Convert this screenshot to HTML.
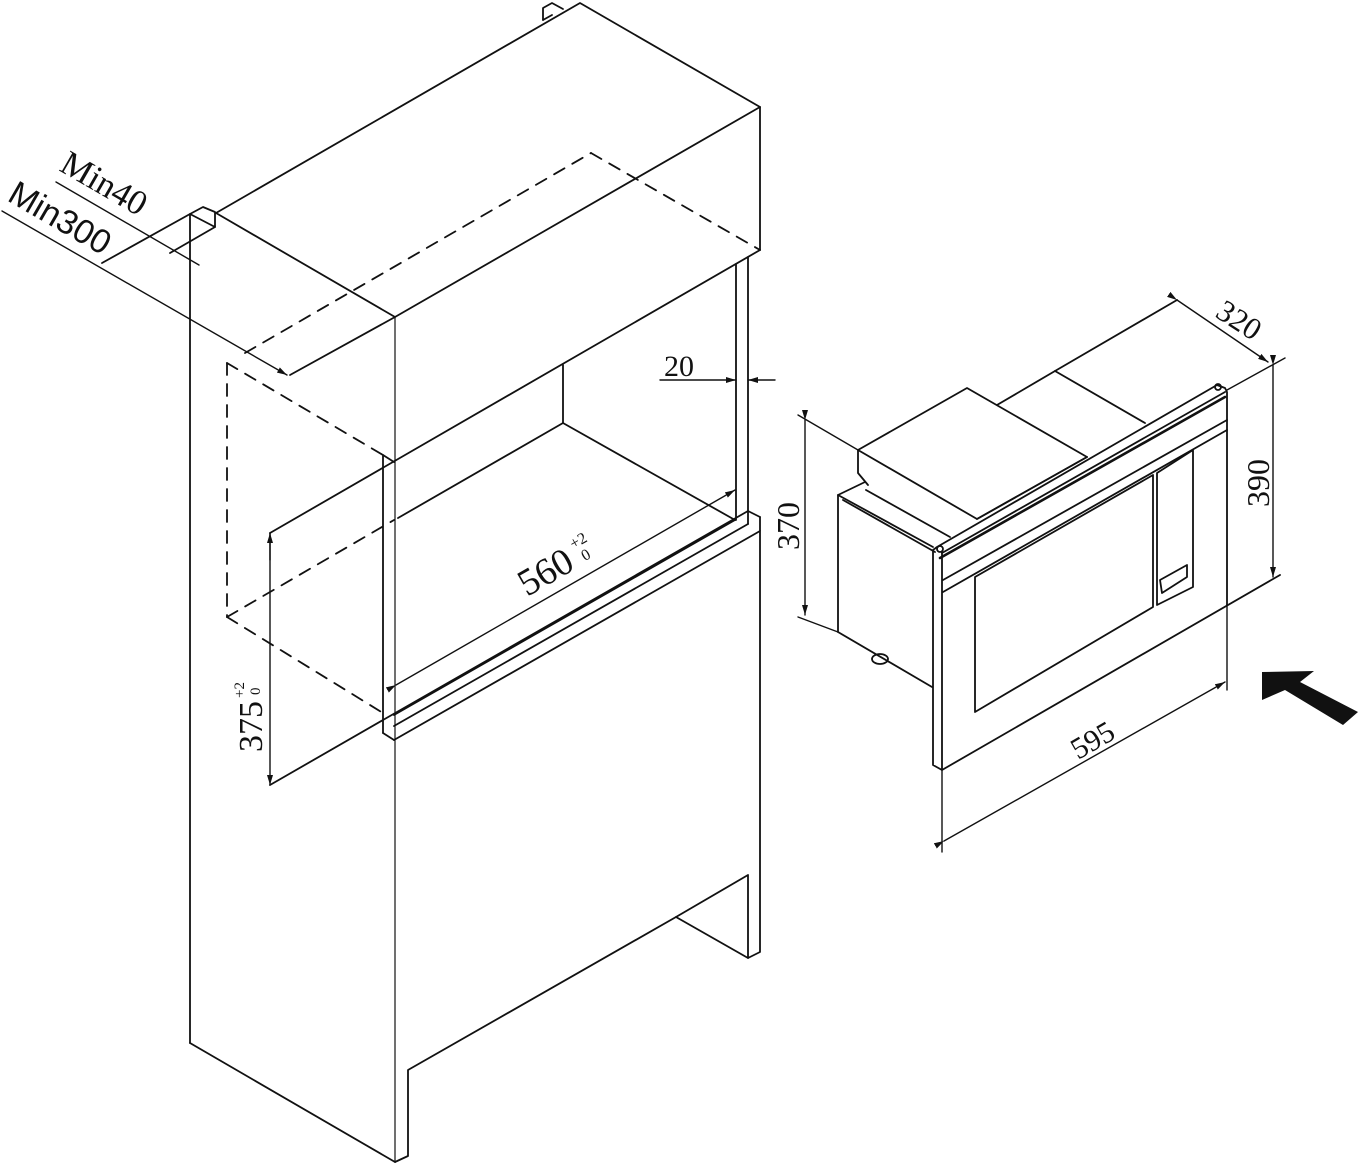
<!DOCTYPE html>
<html><head><meta charset="utf-8"><style>
html,body{margin:0;padding:0;background:#fff;}
svg{display:block;}
text{font-family:"Liberation Serif",serif;fill:#111;}
</style></head><body>
<svg width="1360" height="1166" viewBox="0 0 1360 1166" xmlns="http://www.w3.org/2000/svg">
<defs>
<marker id="ar" viewBox="0 0 10 6" refX="10" refY="3" markerWidth="10" markerHeight="6" orient="auto" markerUnits="userSpaceOnUse"><path d="M0,0 L10,3 L0,6 z" fill="#111"/></marker>
</defs>
<g stroke="#111" stroke-width="1.8" fill="none" stroke-linejoin="round" stroke-linecap="round">
<line x1="190" y1="215" x2="190" y2="1043"/>
<line x1="190" y1="1043" x2="395" y2="1162"/>
<line x1="395" y1="317" x2="395" y2="1162" stroke-width="1.2"/>
<polyline points="395,1162 408,1156 408,1070 676,917 748,875 748,958 760,952 760,532"/>
<line x1="676" y1="917" x2="748" y2="958"/>
<polyline points="216,213 580,3 760,107 760,250"/>
<line x1="216" y1="213" x2="395" y2="317"/>
<line x1="395" y1="317" x2="760" y2="107"/>
<line x1="270" y1="533" x2="760" y2="250"/>
<polyline points="543,20 543,8 552,3 563,9"/>
<line x1="543" y1="20" x2="552" y2="15"/>
<polyline points="190,214 203,207 215,212 215,227 190,214"/>
<line x1="170" y1="253" x2="215" y2="227"/>
<line x1="102" y1="263" x2="190" y2="214"/>
<line x1="290" y1="375" x2="395" y2="317"/>
<line x1="736" y1="264" x2="736" y2="520"/>
<line x1="748" y1="257" x2="748" y2="524"/>
<line x1="563" y1="365" x2="563" y2="423"/>
<line x1="398" y1="518" x2="563" y2="423"/>
<line x1="563" y1="423" x2="735" y2="520"/>
<line x1="383" y1="455" x2="383" y2="733"/>
<line x1="383" y1="455" x2="394" y2="462"/>
<line x1="394" y1="715" x2="735" y2="520"/>
<line x1="383" y1="720" x2="748" y2="511"/>
<line x1="383" y1="733" x2="394" y2="740"/>
<line x1="394" y1="740" x2="760" y2="531"/>
<line x1="394" y1="726" x2="748" y2="524"/>
<line x1="748" y1="511" x2="760" y2="517"/>
<line x1="760" y1="517" x2="760" y2="531"/>
<g stroke-dasharray="12,9">
<line x1="227" y1="363" x2="227" y2="617"/>
<line x1="227" y1="363" x2="383" y2="455"/>
<line x1="227" y1="617" x2="383" y2="713"/>
<line x1="227" y1="617" x2="394" y2="520"/>
<line x1="245" y1="353" x2="591" y2="153"/>
<line x1="591" y1="153" x2="760" y2="250"/>
</g>
<line x1="56" y1="182" x2="199" y2="265" stroke-width="1.4"/>
<line x1="2" y1="211" x2="287" y2="375" stroke-width="1.4" marker-end="url(#ar)"/>
<line x1="660" y1="380" x2="736" y2="380" stroke-width="1.4" marker-end="url(#ar)"/>
<line x1="775" y1="380" x2="748" y2="380" stroke-width="1.4" marker-end="url(#ar)"/>
<line x1="270" y1="560" x2="270" y2="533" stroke-width="1.4" marker-end="url(#ar)"/>
<line x1="270" y1="533" x2="270" y2="785" stroke-width="1.4" marker-end="url(#ar)"/>
<line x1="270" y1="785" x2="383" y2="720"/>
<line x1="396" y1="685" x2="735" y2="490" stroke-width="1.4" marker-end="url(#ar)" marker-start="url(#ar)"/>
<polygon points="858,450 967,388 1087,457 977,519" fill="#fff"/>
<polyline points="858,450 858,473 868,485"/>
<line x1="997" y1="405" x2="1055" y2="371"/>
<line x1="1055" y1="371" x2="1145" y2="423"/>
<line x1="1055" y1="371" x2="1177" y2="300"/>
<line x1="977" y1="519" x2="1087" y2="457"/>
<polyline points="838,632 838,495 865,482"/>
<line x1="838" y1="495" x2="933" y2="547"/>
<line x1="843" y1="500" x2="935" y2="552"/>
<line x1="866" y1="490" x2="950" y2="537"/>
<line x1="838" y1="632" x2="932" y2="687"/>
<ellipse cx="880" cy="659" rx="8" ry="5"/>
<polyline points="942,770 933,765 933,550 937,547 1217,385 1225,388 1227,392 1227,605"/>
<line x1="942" y1="553" x2="942" y2="770"/>
<line x1="942" y1="553" x2="1225" y2="392"/>
<line x1="940" y1="558" x2="1225" y2="397" stroke-width="2.6"/>
<line x1="942" y1="770" x2="1280" y2="575"/>
<circle cx="940" cy="549" r="3"/>
<circle cx="1218" cy="387" r="3"/>
<line x1="943" y1="580" x2="1227" y2="420"/>
<line x1="943" y1="592" x2="1227" y2="430"/>
<polyline points="975,712 975,577 1153,475 1153,607 975,712"/>
<polyline points="1157,605 1157,473 1193,450 1193,587 1157,605"/>
<polygon points="1160,580 1187,565 1187,577 1162,593"/>
<line x1="1177" y1="300" x2="1268" y2="362" stroke-width="1.4" marker-end="url(#ar)" marker-start="url(#ar)"/>
<line x1="1227" y1="390" x2="1285" y2="358" stroke-width="1.4"/>
<line x1="1273" y1="365" x2="1273" y2="577" stroke-width="1.4" marker-end="url(#ar)" marker-start="url(#ar)"/>
<line x1="805" y1="420" x2="805" y2="615" stroke-width="1.4" marker-end="url(#ar)" marker-start="url(#ar)"/>
<line x1="798" y1="415" x2="858" y2="450" stroke-width="1.4"/>
<line x1="798" y1="617" x2="838" y2="632" stroke-width="1.4"/>
<line x1="942" y1="770" x2="942" y2="852" stroke-width="1.4"/>
<line x1="1227" y1="605" x2="1227" y2="690" stroke-width="1.4"/>
<line x1="944" y1="841" x2="1225" y2="682" stroke-width="1.4" marker-end="url(#ar)" marker-start="url(#ar)"/>
</g>
<polygon points="1262,672 1314,671 1300,682 1358,712 1343,725 1285,690 1262,700" fill="#111"/>
<text x="0" y="0" font-size="35" transform="translate(58,170) rotate(30)">Min40</text>
<text x="0" y="0" font-size="34" style="font-family:'Liberation Sans',sans-serif" transform="translate(6,200) rotate(30)">Min300</text>
<text x="664" y="376" font-size="30">20</text>
<g transform="translate(527,597) rotate(-30)"><text x="0" y="0" font-size="38">560</text><text x="64" y="-18" font-size="16">+2</text><text x="68" y="-2" font-size="16">0</text></g>
<g transform="translate(262,752) rotate(-90)"><text x="0" y="0" font-size="34">375</text><text x="54" y="-18" font-size="15">+2</text><text x="57" y="-2" font-size="15">0</text></g>
<text x="0" y="0" font-size="32" transform="translate(799,550) rotate(-90)">370</text>
<text x="0" y="0" font-size="32" transform="translate(1269,507) rotate(-90)">390</text>
<text x="0" y="0" font-size="31" transform="translate(1214,316) rotate(33)">320</text>
<text x="0" y="0" font-size="30" transform="translate(1078,760) rotate(-30)">595</text>
</svg>
</body></html>
